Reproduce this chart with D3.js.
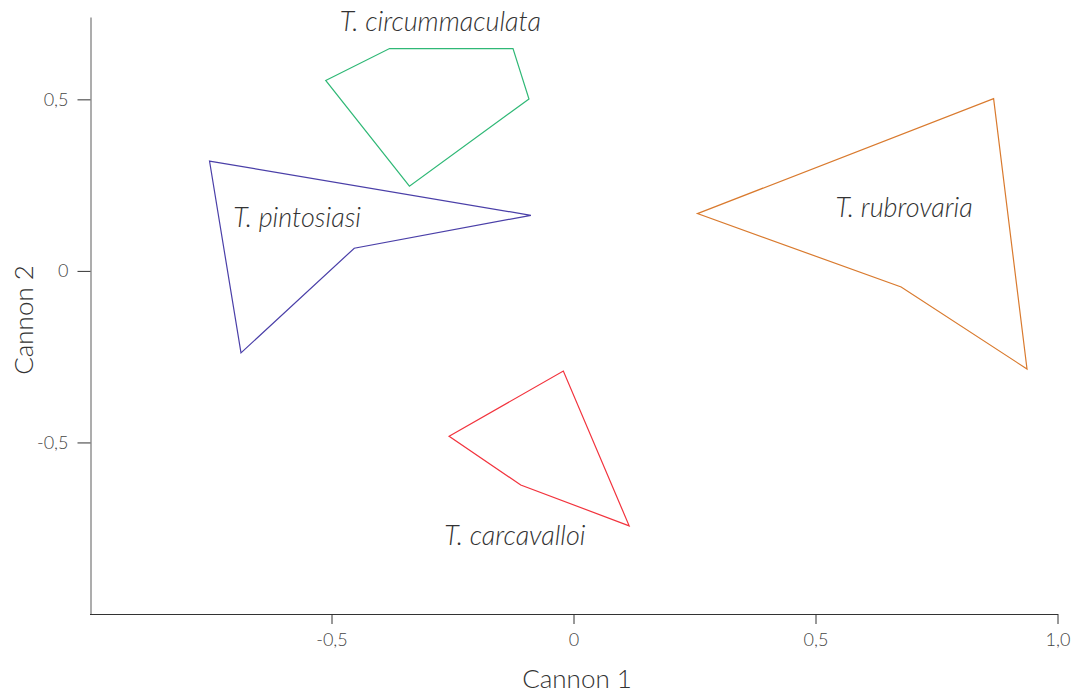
<!DOCTYPE html>
<html>
<head>
<meta charset="utf-8">
<script src="https://cdn.jsdelivr.net/npm/d3@7"></script>
<style>
html,body{margin:0;padding:0;background:#fff;}
svg{display:block;}
text{font-family:Lato,"Open Sans",sans-serif;}
</style>
</head>
<body>
<script>
// Data
const species = ["T. circummaculata", "T. pintosiasi", "T. carcavalloi", "T. rubrovaria"];
const colors = ["#2fb876", "#4a3fa8", "#f2333d", "#d97a2e"];
const hullCircummaculata = [[-0.512,0.555],[-0.380,0.648],[-0.125,0.648],[-0.092,0.501],[-0.339,0.247]];
const hullPintosiasi = [[-0.752,0.320],[-0.088,0.162],[-0.453,0.066],[-0.687,-0.239]];
const hullCarcavalloi = [[-0.257,-0.482],[-0.021,-0.292],[0.115,-0.743],[-0.109,-0.624]];
const hullRubrovaria = [[0.256,0.167],[0.868,0.502],[0.937,-0.286],[0.677,-0.047]];
const hulls = [hullCircummaculata, hullPintosiasi, hullCarcavalloi, hullRubrovaria];
// label anchor positions (data units)
const labelPos = [[-0.275,0.700],[-0.571,0.127],[-0.121,-0.800],[0.683,0.158]];
const xTicks = [-0.5, 0, 0.5, 1.0];
const xTickLabels = ["-0,5", "0", "0,5", "1,0"];
const yTicks = [-0.5, 0, 0.5];
const yTickLabels = ["-0,5", "0", "0,5"];
const xTitle = "Cannon 1", yTitle = "Cannon 2";

const W = 1075, H = 695;
const svg = d3.select("body").append("svg").attr("width", W).attr("height", H);
const x = d3.scaleLinear().domain([-1, 1]).range([89.5, 1057.5]);
const y = d3.scaleLinear().domain([-1, 0.74]).range([614, 17]);

// y axis
const yAxis = d3.axisLeft(y).tickValues(yTicks).tickFormat((d,i)=>yTickLabels[i]).tickSize(13).tickPadding(9).tickSizeOuter(0);
const gy = svg.append("g").attr("transform", `translate(${x(-1)+1},0)`).call(yAxis);
gy.select(".domain").attr("stroke", "#999").attr("stroke-width", 1.6);
gy.selectAll(".tick line").attr("stroke", "#333");
gy.selectAll(".tick text").attr("fill", "#444").style("font-size", "18px").style("font-weight", 300);

// x axis
const xAxis = d3.axisBottom(x).tickValues(xTicks).tickFormat((d,i)=>xTickLabels[i]).tickSize(10).tickPadding(9).tickSizeOuter(0);
const gx = svg.append("g").attr("transform", `translate(0,${y(-1)})`).call(xAxis);
gx.select(".domain").attr("stroke", "#333").attr("stroke-width", 1.2);
gx.selectAll(".tick line").attr("stroke", "#333");
gx.selectAll(".tick text").attr("fill", "#444").style("font-size", "18px").style("font-weight", 300);

// axis titles
svg.append("text").attr("x", 577).attr("y", 688).attr("text-anchor", "middle")
  .attr("fill", "#333").style("font-size", "26px").style("font-weight", 300).text(xTitle);
svg.append("text").attr("transform", "translate(33,320) rotate(-90)").attr("text-anchor", "middle")
  .attr("fill", "#333").style("font-size", "26px").style("font-weight", 300).text(yTitle);

// hulls
const line = d3.line().x(d=>x(d[0])).y(d=>y(d[1])).curve(d3.curveLinearClosed);
svg.append("g").selectAll("path").data(hulls).join("path")
  .attr("d", line).attr("fill", "none")
  .attr("stroke", (d,i)=>colors[i]).attr("stroke-width", 1.2);

// labels
svg.append("g").selectAll("text").data(species).join("text")
  .attr("x", (d,i)=>x(labelPos[i][0])).attr("y", (d,i)=>y(labelPos[i][1]))
  .attr("text-anchor", "middle").attr("fill", "#333")
  .style("font-size", "27px").style("font-style", "italic").style("font-weight", 300)
  .text(d=>d);
</script>
</body>
</html>
